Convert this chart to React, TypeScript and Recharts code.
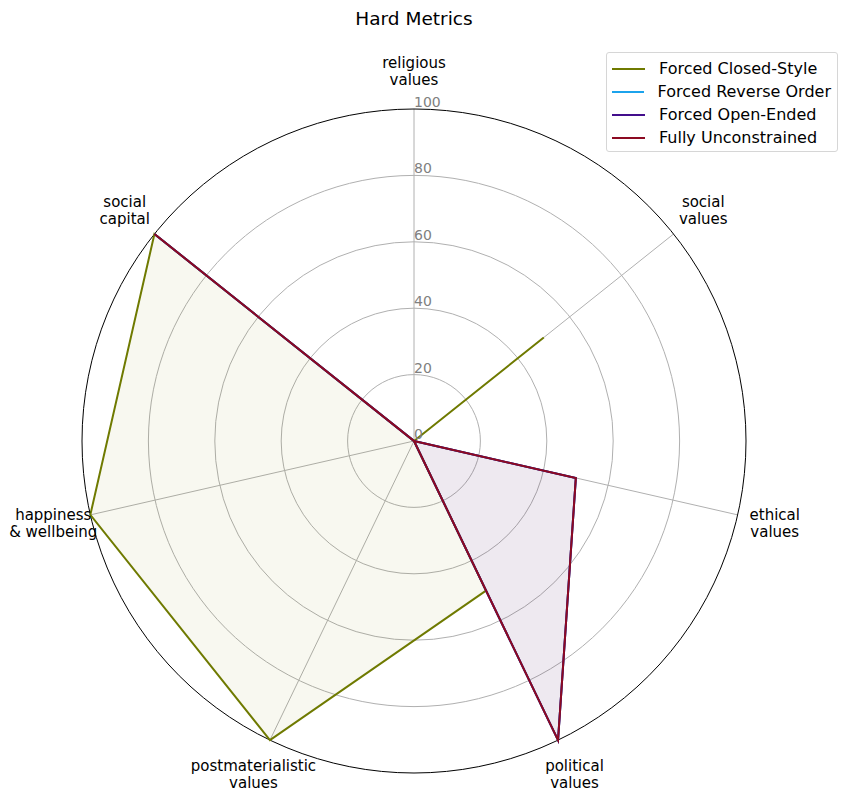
import React from 'react';
import { RadarChart, Radar, PolarGrid, PolarAngleAxis, PolarRadiusAxis, Legend } from 'recharts';

const categories = [
  'religious\nvalues',
  'social\nvalues',
  'ethical\nvalues',
  'political\nvalues',
  'postmaterialistic\nvalues',
  'happiness\n& wellbeing',
  'social\ncapital',
];
const closedStyle = [0, 50, 0, 50, 100, 100, 100];
const reverseOrder = [0, 0, 50, 100, 0, 0, 100];
const openEnded = [0, 0, 50, 100, 0, 0, 100];
const unconstrained = [0, 0, 50, 100, 0, 0, 100];
const radiusTicks = [0, 20, 40, 60, 80, 100];

const series = [
  { key: 'closed', name: 'Forced Closed-Style', color: '#6f7a00', fill: '#808000', fillOpacity: 0.06 },
  { key: 'reverse', name: 'Forced Reverse Order', color: '#1ca3ec', fill: '#1ca3ec', fillOpacity: 0.015 },
  { key: 'open', name: 'Forced Open-Ended', color: '#430e8c', fill: '#430e8c', fillOpacity: 0.045 },
  { key: 'unconstrained', name: 'Fully Unconstrained', color: '#8c0a22', fill: '#8c0a22', fillOpacity: 0.045 },
];

const data = categories.map((name, i) => ({
  name,
  closed: closedStyle[i],
  reverse: reverseOrder[i],
  open: openEnded[i],
  unconstrained: unconstrained[i],
}));

const CX = 414;
const CY = 441;
const R = 332;
const LABEL_R = 370;
const FONT = '"DejaVu Sans", sans-serif';

const AngleTick = (props: any) => {
  const angle = (props.payload.coordinate * Math.PI) / 180;
  const x = CX + LABEL_R * Math.cos(angle);
  const y = CY - LABEL_R * Math.sin(angle);
  const lines = String(props.payload.value).split('\n');
  return (
    <text x={x} y={y} textAnchor="middle" fontSize={15} fill="#000" fontFamily={FONT}>
      {lines.map((l, i) => (
        <tspan key={i} x={x} y={y - 3 + i * 16.5}>
          {l}
        </tspan>
      ))}
    </text>
  );
};

const RadiusTick = (props: any) => (
  <text x={props.x} y={props.y - 2} textAnchor="start" fontSize={14} fill="#808080" fontFamily={FONT}>
    {props.payload.value}
  </text>
);

const LegendBox = () => (
  <div
    style={{
      boxSizing: 'border-box',
      width: 232,
      height: 100,
      border: '1px solid #d6d6d6',
      borderRadius: 3,
      background: 'rgba(255,255,255,0.8)',
      padding: '4px 6px 4px 5px',
      fontFamily: FONT,
      fontSize: 16,
      color: '#000',
      whiteSpace: 'nowrap',
    }}
  >
    {series.map((s) => (
      <div key={s.key} style={{ display: 'flex', alignItems: 'center', height: 23 }}>
        <div style={{ width: 33, height: 2, background: s.color, marginRight: 14 }} />
        <span>{s.name}</span>
      </div>
    ))}
  </div>
);

export default function App() {
  const innerRings = radiusTicks.filter((t) => t > 0 && t < 100).map((t) => (t / 100) * R);
  return (
    <div style={{ position: 'absolute', left: 0, top: 0, width: 847, height: 802, background: '#fff' }}>
      <div
        style={{
          position: 'absolute',
          top: 8,
          left: 0,
          width: 828,
          textAlign: 'center',
          fontFamily: FONT,
          fontSize: 18.5,
          lineHeight: '22px',
        }}
      >
        Hard Metrics
      </div>
      <RadarChart
        width={847}
        height={802}
        data={data}
        cx={CX}
        cy={CY}
        outerRadius={R}
        margin={{ top: 0, right: 0, bottom: 0, left: 0 }}
      >
        <PolarGrid gridType="circle" stroke="#b0b0b0" polarRadius={innerRings} />
        <PolarGrid gridType="circle" stroke="#000" polarRadius={[R]} radialLines={false} />
        <PolarAngleAxis dataKey="name" tick={<AngleTick />} axisLine={false} tickLine={false} />
        <PolarRadiusAxis
          angle={90}
          domain={[0, 100]}
          tickCount={radiusTicks.length}
          axisLine={false}
          tickLine={false}
          tick={<RadiusTick />}
        />
        {series.map((s) => (
          <Radar
            key={s.key}
            name={s.name}
            dataKey={s.key}
            stroke={s.color}
            strokeWidth={2}
            fill={s.fill}
            fillOpacity={s.fillOpacity}
            dot={false}
            isAnimationActive={false}
          />
        ))}
        <Legend content={<LegendBox />} wrapperStyle={{ position: 'absolute', left: 606, top: 52, width: 232 }} />
      </RadarChart>
    </div>
  );
}
